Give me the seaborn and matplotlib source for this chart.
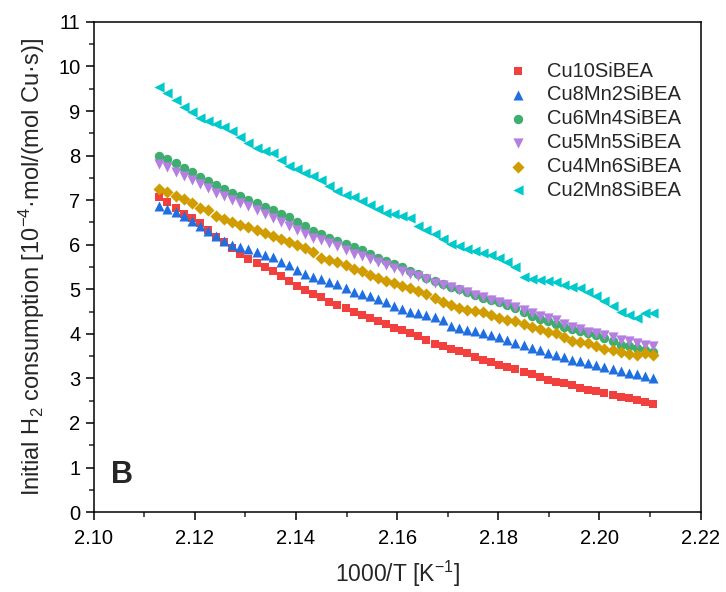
"""Initial H2 consumption vs 1000/T for the CuMn SiBEA series (panel B)"""

import matplotlib
matplotlib.use("Agg")
import matplotlib.pyplot as plt
from matplotlib.ticker import MultipleLocator
import pandas as pd
import seaborn as sns

# 1000/T values, K^-1
inv_t = [2.1130, 2.1146, 2.1162, 2.1178, 2.1194, 2.1210, 2.1226, 2.1242, 2.1258, 2.1274,
         2.1290, 2.1306, 2.1322, 2.1338, 2.1354, 2.1370, 2.1386, 2.1402, 2.1418, 2.1434,
         2.1450, 2.1466, 2.1482, 2.1498, 2.1514, 2.1530, 2.1546, 2.1562, 2.1578, 2.1594,
         2.1610, 2.1626, 2.1642, 2.1658, 2.1674, 2.1690, 2.1706, 2.1722, 2.1738, 2.1754,
         2.1770, 2.1786, 2.1802, 2.1818, 2.1834, 2.1850, 2.1866, 2.1882, 2.1898, 2.1914,
         2.1930, 2.1946, 2.1962, 2.1978, 2.1994, 2.2010, 2.2026, 2.2042, 2.2058, 2.2074,
         2.2090, 2.2106]

cu10 = [7.07, 6.95, 6.83, 6.70, 6.60, 6.48, 6.32, 6.17, 6.05, 5.93,
        5.80, 5.69, 5.60, 5.51, 5.41, 5.29, 5.18, 5.08, 4.99, 4.90,
        4.82, 4.72, 4.65, 4.57, 4.50, 4.42, 4.36, 4.28, 4.21, 4.14,
        4.08, 4.02, 3.96, 3.86, 3.77, 3.72, 3.67, 3.62, 3.57, 3.49,
        3.41, 3.36, 3.30, 3.25, 3.20, 3.14, 3.09, 3.03, 2.97, 2.92,
        2.89, 2.85, 2.79, 2.74, 2.71, 2.67, 2.63, 2.59, 2.55, 2.52,
        2.47, 2.43]

cu8mn2 = [6.87, 6.80, 6.73, 6.64, 6.54, 6.42, 6.31, 6.19, 6.08, 5.99,
          5.94, 5.90, 5.84, 5.78, 5.72, 5.62, 5.54, 5.43, 5.35, 5.28,
          5.24, 5.16, 5.11, 5.03, 4.95, 4.90, 4.85, 4.78, 4.71, 4.62,
          4.55, 4.50, 4.46, 4.42, 4.37, 4.30, 4.18, 4.14, 4.09, 4.06,
          4.02, 3.97, 3.92, 3.86, 3.80, 3.74, 3.69, 3.64, 3.58, 3.53,
          3.47, 3.42, 3.38, 3.34, 3.30, 3.26, 3.21, 3.16, 3.12, 3.09,
          3.05, 3.00]

cu6mn4 = [8.00, 7.93, 7.84, 7.73, 7.64, 7.52, 7.43, 7.33, 7.25, 7.17,
          7.09, 7.01, 6.93, 6.84, 6.78, 6.70, 6.62, 6.51, 6.42, 6.31,
          6.23, 6.15, 6.08, 6.01, 5.95, 5.88, 5.80, 5.71, 5.63, 5.57,
          5.50, 5.42, 5.34, 5.26, 5.19, 5.12, 5.05, 5.00, 4.95, 4.88,
          4.81, 4.76, 4.71, 4.65, 4.58, 4.49, 4.41, 4.34, 4.28, 4.22,
          4.15, 4.10, 4.06, 4.02, 3.97, 3.91, 3.83, 3.76, 3.72, 3.68,
          3.63, 3.59]

cu5mn5 = [7.82, 7.74, 7.64, 7.54, 7.45, 7.36, 7.27, 7.17, 7.09, 7.01,
          6.93, 6.86, 6.78, 6.69, 6.61, 6.52, 6.43, 6.33, 6.24, 6.16,
          6.10, 6.03, 5.96, 5.88, 5.80, 5.74, 5.68, 5.62, 5.55, 5.48,
          5.41, 5.35, 5.29, 5.22, 5.15, 5.10, 5.05, 4.99, 4.93, 4.88,
          4.83, 4.77, 4.72, 4.66, 4.60, 4.54, 4.47, 4.41, 4.36, 4.30,
          4.22, 4.16, 4.10, 4.05, 4.01, 3.97, 3.92, 3.87, 3.83, 3.79,
          3.76, 3.73]

cu4mn6 = [7.25, 7.19, 7.10, 7.02, 6.94, 6.83, 6.78, 6.64, 6.57, 6.52,
          6.45, 6.39, 6.33, 6.27, 6.20, 6.12, 6.05, 6.00, 5.93, 5.84,
          5.70, 5.66, 5.62, 5.55, 5.46, 5.40, 5.31, 5.26, 5.18, 5.14,
          5.07, 5.03, 4.97, 4.90, 4.80, 4.72, 4.64, 4.59, 4.54, 4.51,
          4.49, 4.42, 4.36, 4.32, 4.28, 4.22, 4.16, 4.11, 4.05, 4.02,
          3.94, 3.85, 3.82, 3.79, 3.72, 3.67, 3.63, 3.59, 3.55, 3.52,
          3.56, 3.52]

cu2mn8 = [9.53, 9.40, 9.25, 9.10, 8.98, 8.85, 8.78, 8.70, 8.64, 8.55,
          8.42, 8.28, 8.17, 8.10, 8.05, 7.90, 7.76, 7.70, 7.62, 7.55,
          7.45, 7.32, 7.20, 7.12, 7.08, 6.98, 6.88, 6.80, 6.72, 6.68,
          6.65, 6.60, 6.42, 6.33, 6.25, 6.12, 6.02, 5.96, 5.90, 5.85,
          5.82, 5.76, 5.71, 5.62, 5.50, 5.28, 5.24, 5.20, 5.18, 5.16,
          5.10, 5.06, 5.02, 4.95, 4.86, 4.74, 4.62, 4.50, 4.42, 4.36,
          4.46, 4.47]

names = ["Cu10SiBEA", "Cu8Mn2SiBEA", "Cu6Mn4SiBEA", "Cu5Mn5SiBEA", "Cu4Mn6SiBEA", "Cu2Mn8SiBEA"]
series = [cu10, cu8mn2, cu6mn4, cu5mn5, cu4mn6, cu2mn8]
colors = ["#F2403F", "#1F6FE0", "#3DAE6E", "#B47FE0", "#D09C00", "#00C9CC"]
markers = ["s", "^", "o", "v", "D", "<"]
sizes = [40, 52, 46, 54, 38, 54]

df = pd.concat([pd.DataFrame({"x": inv_t, "y": s, "sample": n}) for n, s in zip(names, series)])

sns.set_style("ticks")
plt.rcParams["font.family"] = ["Liberation Sans", "DejaVu Sans"]
plt.rcParams["mathtext.default"] = "regular"
plt.rcParams["xtick.direction"] = "out"
plt.rcParams["ytick.direction"] = "out"

fig = plt.figure(figsize=(7.26, 5.92), dpi=100)
ax = fig.add_axes([0.129, 0.135, 0.836, 0.828])

for n, c, m, s in zip(names, colors, markers, sizes):
    sns.scatterplot(data=df[df["sample"] == n], x="x", y="y", color=c, marker=m, s=s,
                    linewidth=0, label=n, ax=ax)

ax.set_xlim(2.10, 2.22)
ax.set_ylim(0, 11)
ax.xaxis.set_major_locator(MultipleLocator(0.02))
ax.xaxis.set_minor_locator(MultipleLocator(0.01))
ax.yaxis.set_major_locator(MultipleLocator(1))
ax.yaxis.set_minor_locator(MultipleLocator(0.5))
ax.xaxis.set_major_formatter(plt.FormatStrFormatter("%.2f"))
ax.tick_params(which="major", length=6, width=1.1, labelsize=14.5, colors="black")
ax.tick_params(axis="x", which="major", pad=6)
ax.tick_params(which="minor", length=3.5, width=1.1)
for sp in ax.spines.values():
    sp.set_linewidth(1.1)
    sp.set_color("black")

ax.set_xlabel("1000/T [K$^{-1}$]", fontsize=16.5, labelpad=8)
ax.set_ylabel("Initial H$_2$ consumption [10$^{-4}$·mol/(mol Cu·s)]", fontsize=17, labelpad=8)
ax.text(0.028, 0.06, "B", transform=ax.transAxes, fontsize=22, fontweight="bold")

ax.legend(loc="upper left", bbox_to_anchor=(0.653, 0.956), frameon=False, fontsize=14.5,
          handlelength=1.0, handletextpad=0.95, labelspacing=0.24, borderpad=0.4)

fig.savefig("out.png", dpi=100)
